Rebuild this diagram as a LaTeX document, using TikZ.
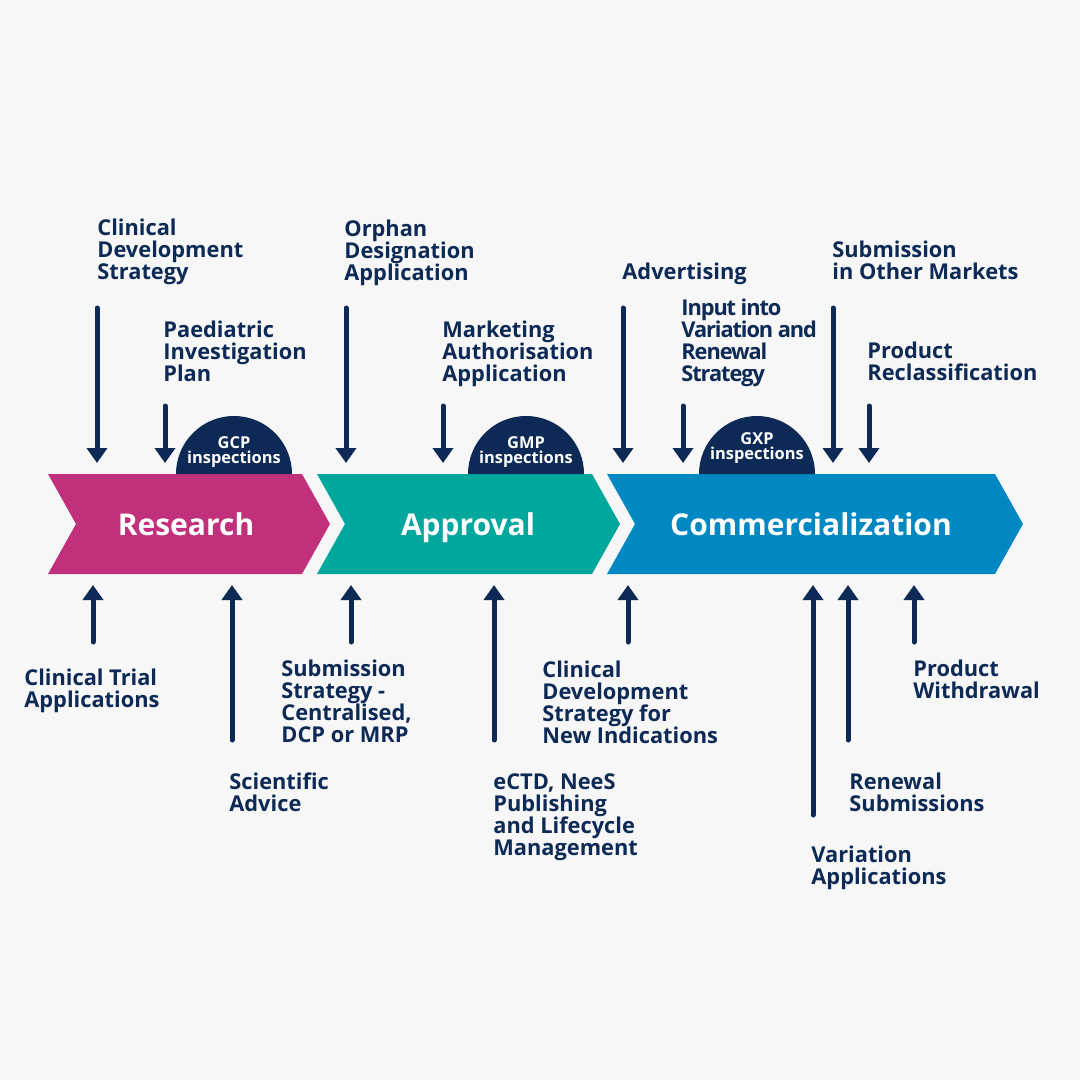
\documentclass[tikz,border=0pt]{standalone}
\usepackage{fontspec}
\setmainfont{Open Sans}
\usepackage{xcolor}
\usetikzlibrary{arrows.meta}
\definecolor{navy}{HTML}{0C2A55}
\definecolor{resmag}{HTML}{C1307A}
\definecolor{apptea}{HTML}{00A79D}
\definecolor{comblu}{HTML}{0088C2}
\definecolor{bggray}{HTML}{F7F7F7}

\tikzset{
  lbl/.style={anchor=base west, inner sep=0pt, align=left, text=navy,
    font=\bfseries\fontsize{10.9}{11}\selectfont},
  tightlbl/.style={lbl, font=\bfseries\fontsize{10.9}{11}\selectfont\addfontfeature{LetterSpace=-5}},
  stage/.style={anchor=base, inner sep=0pt, text=white,
    font=\bfseries\fontsize{15}{18}\selectfont},
  dome/.style={inner sep=0pt, align=center, text=white,
    font=\bfseries\fontsize{8.2}{7.8}\selectfont},
  arr/.style={navy, line width=2.5pt, line cap=round,
    -{Triangle[width=10pt,length=7.5pt]}}
}

\begin{document}
\begin{tikzpicture}[x=0.5pt,y=-0.5pt]

\useasboundingbox (0,0) rectangle (1080,1080);
\fill[bggray] (0,0) rectangle (1080,1080);

% stages
\fill[resmag] (48,474) -- (302,474) -- (330,524) -- (302,574) -- (48,574) -- (76,524) -- cycle;
\fill[apptea] (317,474) -- (592,474) -- (620,524) -- (592,574) -- (317,574) -- (345,524) -- cycle;
\fill[comblu] (607,474) -- (995,474) -- (1023,524) -- (995,574) -- (607,574) -- (635,524) -- cycle;

\node[stage] (research) at (186,535) {Research};
\node[stage] (approval) at (468,535) {Approval};
\node[stage] (commerc) at (811,535) {Commercialization};

% inspections
\fill[navy] (176,474) arc[start angle=180, end angle=360, radius=58] -- cycle;
\fill[navy] (468,474) arc[start angle=180, end angle=360, radius=58] -- cycle;
\fill[navy] (699,474) arc[start angle=180, end angle=360, radius=58] -- cycle;

\node[dome] (gcp) at (234,452) {GCP\\inspections};
\node[dome] (gmp) at (526,452) {GMP\\inspections};
\node[dome] (gxp) at (757,448) {GXP\\inspections};

% labels above (base = last line)
\node[lbl] (cds) at (97,280) {Clinical\\Development\\Strategy};
\node[lbl] (pip) at (163,381) {Paediatric\\Investigation\\Plan};
\node[lbl] (oda) at (344,281) {Orphan\\Designation\\Application};
\node[lbl] (maa) at (442,381) {Marketing\\Authorisation\\Application};
\node[lbl] (adv) at (622,280) {Advertising};
\node[tightlbl] (ivr) at (681,381) {Input into\\Variation and\\Renewal\\Strategy};
\node[lbl] (som) at (832,280) {Submission\\in Other Markets};
\node[lbl] (prc) at (867,380) {Product\\Reclassification};

% labels below
\node[lbl] (cta) at (24,707) {Clinical Trial\\Applications};
\node[lbl] (sca) at (229,811) {Scientific\\Advice};
\node[lbl] (sst) at (281,742) {Submission\\Strategy -\\Centralised,\\DCP or MRP};
\node[lbl] (ectd) at (493,855) {eCTD, NeeS\\Publishing\\and Lifecycle\\Management};
\node[lbl] (cdn) at (542,743) {Clinical\\Development\\Strategy for\\New Indications};
\node[lbl] (var) at (811,884) {Variation\\Applications};
\node[lbl] (ren) at (849,811) {Renewal\\Submissions};
\node[lbl] (pwd) at (913,698) {Product\\Withdrawal};

% arrow ends
\coordinate (cds-s) at (97,308);   \coordinate (cds-e) at (97,463);
\coordinate (pip-s) at (165,406);  \coordinate (pip-e) at (165,463);
\coordinate (oda-s) at (346,308);  \coordinate (oda-e) at (346,463);
\coordinate (maa-s) at (443,406);  \coordinate (maa-e) at (443,463);
\coordinate (adv-s) at (623,308);  \coordinate (adv-e) at (623,463);
\coordinate (ivr-s) at (683,406);  \coordinate (ivr-e) at (683,463);
\coordinate (som-s) at (833,308);  \coordinate (som-e) at (833,463);
\coordinate (prc-s) at (869,406);  \coordinate (prc-e) at (869,463);

\coordinate (cta-s) at (93,642);   \coordinate (cta-e) at (93,585);
\coordinate (sca-s) at (232,740);  \coordinate (sca-e) at (232,585);
\coordinate (sst-s) at (351,642);  \coordinate (sst-e) at (351,585);
\coordinate (ectd-s) at (494,740); \coordinate (ectd-e) at (494,585);
\coordinate (cdn-s) at (628,642);  \coordinate (cdn-e) at (628,585);
\coordinate (var-s) at (813,815);  \coordinate (var-e) at (813,585);
\coordinate (ren-s) at (848,740);  \coordinate (ren-e) at (848,585);
\coordinate (pwd-s) at (914,642);  \coordinate (pwd-e) at (914,585);

% arrows
\draw[arr] (cds-s) -- (cds-e);
\draw[arr] (pip-s) -- (pip-e);
\draw[arr] (oda-s) -- (oda-e);
\draw[arr] (maa-s) -- (maa-e);
\draw[arr] (adv-s) -- (adv-e);
\draw[arr] (ivr-s) -- (ivr-e);
\draw[arr] (som-s) -- (som-e);
\draw[arr] (prc-s) -- (prc-e);

\draw[arr] (cta-s) -- (cta-e);
\draw[arr] (sca-s) -- (sca-e);
\draw[arr] (sst-s) -- (sst-e);
\draw[arr] (ectd-s) -- (ectd-e);
\draw[arr] (cdn-s) -- (cdn-e);
\draw[arr] (var-s) -- (var-e);
\draw[arr] (ren-s) -- (ren-e);
\draw[arr] (pwd-s) -- (pwd-e);

\end{tikzpicture}
\end{document}
